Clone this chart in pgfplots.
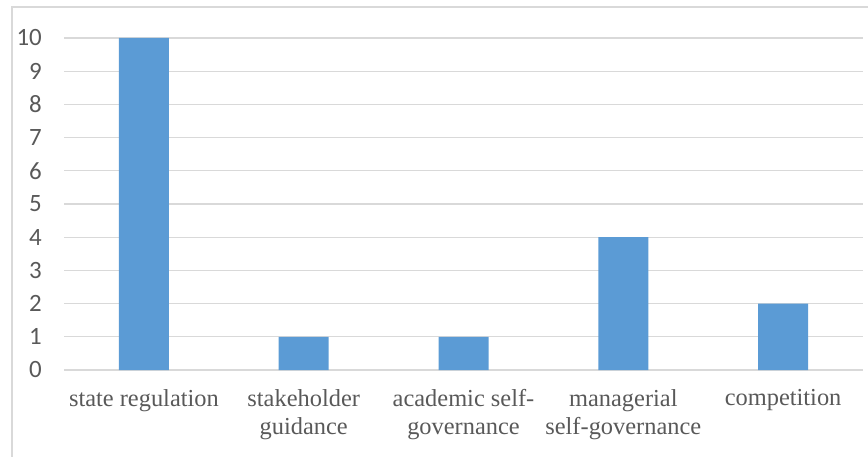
\documentclass[border=0pt]{standalone}
\usepackage{fontspec}
\setmainfont{Liberation Serif}
\newfontfamily\carlito{Carlito}
\usepackage{pgfplots}
\pgfplotsset{compat=1.18}
\definecolor{barblue}{HTML}{5B9BD5}
\definecolor{gridgray}{HTML}{D9D9D9}
\definecolor{txtgray}{HTML}{595959}
\begin{document}
\begin{tikzpicture}
\useasboundingbox (0,0) rectangle (868bp,457bp);
\draw[gridgray, line width=1.2bp] (12bp,0) -- (12bp,450bp) -- (868bp,450bp);
\begin{axis}[at={(64bp,87bp)}, anchor=south west, scale only axis,
  width=799bp, height=332bp,
  xmin=-0.5, xmax=4.5, ymin=0, ymax=10,
  ytick={0,...,10}, xtick={0,...,4},
  xticklabels={state regulation, stakeholder\\guidance, academic self-\\governance, managerial\\self-governance, competition},
  axis line style={draw=none},
  ymajorgrids, grid style={gridgray, line width=1.2bp},
  major tick length=0pt,
  yticklabel style={font=\carlito\fontsize{25}{25}\selectfont, text=txtgray, anchor=east, inner sep=0pt, xshift=-22bp},
  /pgf/number format/assume math mode=true,
  xticklabel style={font=\fontsize{24.5}{28}\selectfont, text=txtgray, align=center, anchor=north, inner sep=0pt, yshift=-19bp},
  clip=false]
\addplot[ybar, bar width=50bp, fill=barblue, draw=none] coordinates {(0,10) (1,1) (2,1) (3,4) (4,2)};
\end{axis}
\end{tikzpicture}
\end{document}
